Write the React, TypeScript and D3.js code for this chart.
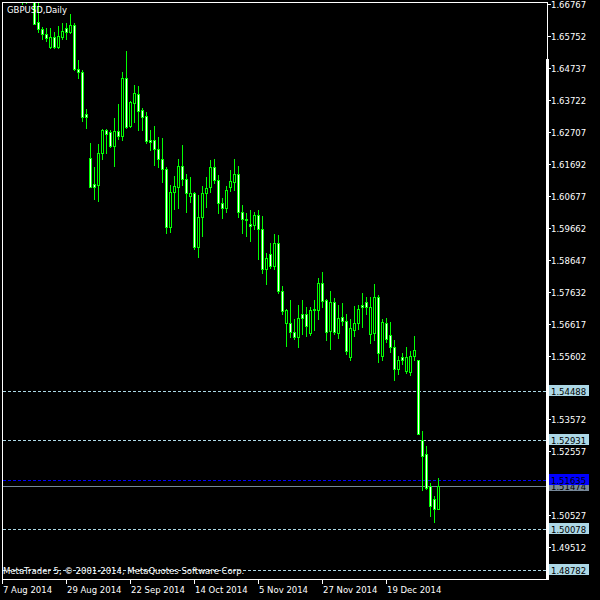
import React from "react";
import * as d3 from "d3";

const title = "GBPUSD,Daily";
const copyright = "MetaTrader 5, © 2001-2014, MetaQuotes Software Corp.";
const dateLabels = ["7 Aug 2014", "29 Aug 2014", "22 Sep 2014", "14 Oct 2014", "5 Nov 2014", "27 Nov 2014", "19 Dec 2014"];
const dateLabelBars = [0, 16, 32, 48, 64, 80, 96];
const priceTicks = [1.66767, 1.65752, 1.64737, 1.63722, 1.62707, 1.61692, 1.60677, 1.59662, 1.58647, 1.57632, 1.56617, 1.55602, 1.54587, 1.53572, 1.52557, 1.51542, 1.50527, 1.49512];
const levelLines = [1.54488, 1.52931, 1.50078, 1.48782];
const askPrice = 1.51635;
const bidPrice = 1.51474;

const opens = [1.683, 1.6815, 1.6785, 1.679, 1.677, 1.671, 1.672, 1.67, 1.67, 1.66185, 1.65963, 1.65814, 1.6541, 1.65709, 1.6541, 1.65728, 1.66004, 1.65887, 1.661, 1.64692, 1.64596, 1.63271, 1.61863, 1.61047, 1.61015, 1.62022, 1.62763, 1.62709, 1.62264, 1.62731, 1.62582, 1.64406, 1.62899, 1.6363, 1.63907, 1.63398, 1.63208, 1.62445, 1.62445, 1.62149, 1.61831, 1.61514, 1.5967, 1.60802, 1.60961, 1.61619, 1.61196, 1.60675, 1.60751, 1.59035, 1.60007, 1.60751, 1.60942, 1.61577, 1.61174, 1.60433, 1.60274, 1.60942, 1.6112, 1.61364, 1.60147, 1.59925, 1.59775, 1.59744, 1.60061, 1.59607, 1.58336, 1.58812, 1.58441, 1.59162, 1.57656, 1.56651, 1.56651, 1.56334, 1.56194, 1.56906, 1.56906, 1.56321, 1.57042, 1.57042, 1.5791, 1.5736, 1.56375, 1.57287, 1.56321, 1.56829, 1.56702, 1.55558, 1.56429, 1.56639, 1.57201, 1.57306, 1.56302, 1.56321, 1.57446, 1.5559, 1.56651, 1.56248, 1.55876, 1.55189, 1.55558, 1.55113, 1.55081, 1.5558, 1.55453, 1.52933, 1.52466, 1.51449, 1.51058, 1.5074];
const highs = [1.685, 1.684, 1.6815, 1.683, 1.68, 1.6735, 1.6745, 1.6725, 1.6712, 1.6683, 1.66046, 1.65995, 1.65995, 1.65887, 1.66068, 1.66154, 1.66154, 1.66449, 1.66154, 1.64987, 1.64669, 1.6343, 1.62359, 1.61596, 1.62308, 1.62794, 1.62785, 1.62763, 1.63134, 1.63589, 1.64596, 1.65273, 1.6368, 1.64193, 1.64171, 1.63452, 1.63344, 1.62763, 1.6289, 1.6255, 1.62499, 1.61596, 1.61015, 1.61301, 1.61831, 1.62286, 1.61364, 1.61279, 1.60802, 1.60697, 1.60983, 1.61279, 1.61809, 1.61831, 1.61333, 1.60592, 1.60983, 1.61491, 1.61841, 1.61619, 1.60379, 1.60115, 1.6022, 1.60147, 1.6022, 1.6003, 1.58863, 1.59181, 1.59458, 1.59426, 1.57805, 1.57096, 1.5736, 1.56778, 1.57201, 1.5736, 1.57128, 1.57128, 1.5736, 1.5805, 1.58259, 1.57392, 1.57656, 1.57414, 1.57201, 1.57268, 1.56937, 1.56778, 1.5717, 1.57201, 1.57573, 1.57465, 1.57446, 1.57869, 1.57519, 1.56778, 1.5681, 1.56661, 1.56089, 1.5558, 1.55685, 1.55876, 1.55749, 1.56216, 1.55475, 1.53197, 1.5272, 1.51554, 1.51141, 1.51725];
const lows = [1.68, 1.677, 1.677, 1.676, 1.67, 1.6677, 1.6679, 1.669, 1.6612, 1.65877, 1.65645, 1.65591, 1.65378, 1.65378, 1.65378, 1.65655, 1.65645, 1.65836, 1.64669, 1.64406, 1.63058, 1.62817, 1.60942, 1.6057, 1.60516, 1.61841, 1.62022, 1.62213, 1.61619, 1.62477, 1.62445, 1.62817, 1.6287, 1.63026, 1.62763, 1.62763, 1.6234, 1.62127, 1.6165, 1.61596, 1.6112, 1.59499, 1.59531, 1.60252, 1.60274, 1.61015, 1.60157, 1.60484, 1.58971, 1.58736, 1.59394, 1.60306, 1.60802, 1.61069, 1.60115, 1.59956, 1.60166, 1.60824, 1.60856, 1.60007, 1.59499, 1.59394, 1.59245, 1.59607, 1.58653, 1.58228, 1.57869, 1.58367, 1.58336, 1.57573, 1.56915, 1.55908, 1.56194, 1.56143, 1.55876, 1.56302, 1.56226, 1.56248, 1.56429, 1.56756, 1.57147, 1.56111, 1.55803, 1.56302, 1.56175, 1.56566, 1.55644, 1.55453, 1.56216, 1.56461, 1.56512, 1.56937, 1.56003, 1.56089, 1.55399, 1.55453, 1.56025, 1.55717, 1.5484, 1.55031, 1.55348, 1.5505, 1.54977, 1.55475, 1.53101, 1.51322, 1.51376, 1.50505, 1.50314, 1.50718];
const closes = [1.6815, 1.6785, 1.679, 1.677, 1.671, 1.672, 1.67, 1.6705, 1.66131, 1.65963, 1.65804, 1.65677, 1.65709, 1.6541, 1.6575, 1.65909, 1.65887, 1.661, 1.64692, 1.64596, 1.63166, 1.63166, 1.60942, 1.60942, 1.62022, 1.62763, 1.62636, 1.62264, 1.62731, 1.62582, 1.64406, 1.62848, 1.63662, 1.63929, 1.63376, 1.63185, 1.62423, 1.62391, 1.62149, 1.61831, 1.61514, 1.5967, 1.60802, 1.60983, 1.61619, 1.61196, 1.60751, 1.60751, 1.59035, 1.60007, 1.60751, 1.6091, 1.61577, 1.61174, 1.60433, 1.60274, 1.60856, 1.61142, 1.61364, 1.60147, 1.59925, 1.59915, 1.59721, 1.60061, 1.59607, 1.58336, 1.58685, 1.58441, 1.59162, 1.57656, 1.5702, 1.57064, 1.56334, 1.56194, 1.56797, 1.56797, 1.56543, 1.57042, 1.57074, 1.5791, 1.57338, 1.56353, 1.57287, 1.56353, 1.5681, 1.56702, 1.55749, 1.56492, 1.5662, 1.57096, 1.57147, 1.57128, 1.57128, 1.57465, 1.55698, 1.5667, 1.56143, 1.55876, 1.55189, 1.55475, 1.55475, 1.55558, 1.5558, 1.55793, 1.53124, 1.52412, 1.51395, 1.50823, 1.5074, 1.51474];

const FONT = "'DejaVu Sans', sans-serif";
const FS = 8.5;
const GREEN = "#00ff00";
const LEVEL = "#add8e6";

export default function App() {
  React.useEffect(() => {
    document.body.style.margin = "0";
  }, []);

  const x = d3.scaleLinear().domain([0, 109]).range([2, 438]);
  const y = d3.scaleLinear().domain([1.66767, 1.49512]).range([4, 547.3]);
  const ry = (p: number) => Math.round(y(p));

  const boxPrices = [...levelLines, bidPrice, askPrice];
  const hiddenByBox = (t: number) => boxPrices.some((p) => Math.abs(ry(p) - ry(t)) < 8);

  const candles = opens.map((o, i) => {
    const h = highs[i], l = lows[i], c = closes[i];
    const cx = Math.round(x(i));
    const top = ry(Math.max(o, c));
    const bot = ry(Math.min(o, c));
    const bear = c < o;
    return (
      <g key={i}>
        <rect x={cx} y={ry(h)} width={1} height={ry(l) - ry(h) + 1} fill={GREEN} />
        <rect x={cx - 1} y={top} width={3} height={bot - top + 1} fill={GREEN} />
        {bot - top >= 2 && (
          <rect x={cx} y={top + 1} width={1} height={bot - top - 1} fill={bear ? "#ffffff" : "#000000"} />
        )}
      </g>
    );
  });

  const priceBox = (p: number, bg: string, fg: string, key: string) => (
    <g key={key}>
      <rect x={549} y={ry(p) - 6} width={40} height={11} fill={bg} />
      <text x={551} y={ry(p) + 3.5} fill={fg} fontSize={FS} fontFamily={FONT}>{p.toFixed(5)}</text>
    </g>
  );

  return (
    <svg width={600} height={600} style={{ position: "absolute", left: 0, top: 0, display: "block" }} shapeRendering="crispEdges">
      <rect x={0} y={0} width={600} height={600} fill="#000000" />
      <defs>
        <clipPath id="plot">
          <rect x={3} y={3} width={543} height={576} />
        </clipPath>
      </defs>
      <g clipPath="url(#plot)">
        {levelLines.map((p) => (
          <line key={p} x1={3} x2={546} y1={ry(p) + 0.5} y2={ry(p) + 0.5} stroke={LEVEL} strokeDasharray="3,2" />
        ))}
        <line x1={3} x2={546} y1={ry(bidPrice) + 0.5} y2={ry(bidPrice) + 0.5} stroke="#778899" />
        <line x1={3} x2={546} y1={ry(askPrice) + 0.5} y2={ry(askPrice) + 0.5} stroke="#0000ff" strokeDasharray="3,2" />
        {candles}
      </g>
      <text x={7} y={12.5} fill="#ffffff" fontSize={FS} fontFamily={FONT}>{title}</text>
      <text x={3} y={573.5} fill="#ffffff" fontSize={FS} fontFamily={FONT}>{copyright}</text>
      {/* frame */}
      <rect x={2} y={2} width={546} height={1} fill="#ffffff" />
      <rect x={2} y={2} width={1} height={582} fill="#ffffff" />
      <rect x={2} y={579} width={546} height={1} fill="#ffffff" />
      <rect x={547} y={2} width={1} height={578} fill="#ffffff" />
      <rect x={546} y={59} width={3} height={521} fill="#ffffff" />
      {/* price axis */}
      {priceTicks.map((t) => (
        <g key={t}>
          <rect x={548} y={ry(t)} width={3} height={1} fill="#ffffff" />
          {!hiddenByBox(t) && (
            <text x={551} y={ry(t) + 3.5} fill="#ffffff" fontSize={FS} fontFamily={FONT}>{t.toFixed(5)}</text>
          )}
        </g>
      ))}
      {levelLines.map((p) => priceBox(p, LEVEL, "#000000", "lv" + p))}
      {priceBox(bidPrice, "#778899", "#000000", "bid")}
      {priceBox(askPrice, "#0000ff", "#000000", "ask")}
      {/* time axis */}
      {dateLabelBars.map((b, i) => {
        const cx = Math.round(x(b));
        return (
          <g key={b}>
            <rect x={cx} y={579} width={1} height={5} fill="#ffffff" />
            <text x={cx + 1} y={592.5} fill="#ffffff" fontSize={FS} fontFamily={FONT}>{dateLabels[i]}</text>
          </g>
        );
      })}
    </svg>
  );
}
